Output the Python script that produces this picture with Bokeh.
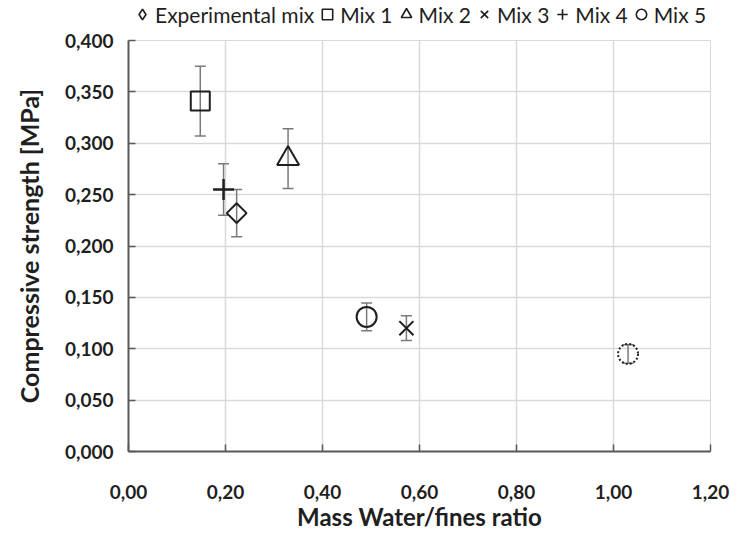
import numpy as np
from bokeh.plotting import figure
from bokeh.layouts import column
from bokeh.models import (ColumnDataSource, Whisker, TeeHead, Legend, LegendItem,
                          FixedTicker)
from bokeh.embed import file_html
from bokeh.resources import INLINE

# ---- data ----
series_names = ["Experimental mix", "Mix 1", "Mix 2", "Mix 3", "Mix 4", "Mix 5", "Mix 6"]
water_fines_ratio = [0.223, 0.148, 0.329, 0.573, 0.196, 0.491, 1.030]
compressive_strength = [0.232, 0.341, 0.285, 0.120, 0.255, 0.131, 0.095]
strength_sd = [0.023, 0.034, 0.029, 0.012, 0.025, 0.0135, 0.009]

x_ticks = [0.0, 0.2, 0.4, 0.6, 0.8, 1.0, 1.2]
x_tick_labels = ["0,00", "0,20", "0,40", "0,60", "0,80", "1,00", "1,20"]
y_ticks = [0.0, 0.05, 0.10, 0.15, 0.20, 0.25, 0.30, 0.35, 0.40]
y_tick_labels = ["0,000", "0,050", "0,100", "0,150", "0,200", "0,250", "0,300", "0,350", "0,400"]

# ---- styles ----
marker_styles = [
    dict(marker="square", size=14, angle=np.pi / 4),
    dict(marker="square", size=19),
    dict(marker="triangle", size=22),
    dict(marker="x", size=20),
    dict(marker="cross", size=21, line_width=2.5),
    dict(marker="circle", size=20),
    dict(marker="circle", size=20, line_dash="2 2"),
]
legend_markers = ["diamond", "square", "triangle", "x", "cross", "circle", "circle"]
legend_dash = ["solid", "solid", "solid", "solid", "solid", "solid", "2 2"]

FONT = "Lato"
GRID = "#d9d9d9"
AXIS = "#595959"
INK = "#1f1f1f"

# ---- main plot ----
p = figure(width=742, height=505, x_range=(0, 1.2), y_range=(0, 0.4),
           output_backend="svg", toolbar_location=None,
           min_border_left=128, min_border_right=32, min_border_top=12,
           min_border_bottom=82)
p.outline_line_color = GRID
p.background_fill_color = "white"

err_src = ColumnDataSource(dict(
    x=water_fines_ratio,
    upper=[v + e for v, e in zip(compressive_strength, strength_sd)],
    lower=[v - e for v, e in zip(compressive_strength, strength_sd)],
))
wh = Whisker(base="x", upper="upper", lower="lower", source=err_src, dimension="height",
             line_color="#7a7a7a", line_width=1.5,
             upper_head=TeeHead(size=11, line_color="#7a7a7a", line_width=1.5),
             lower_head=TeeHead(size=11, line_color="#7a7a7a", line_width=1.5))
p.add_layout(wh)

# ---- legend strip (its own frame, above the chart) ----
lg = figure(width=742, height=28, x_range=(10, 11), y_range=(10, 11),
            output_backend="svg", toolbar_location=None,
            x_axis_type=None, y_axis_type=None,
            min_border_left=16, min_border_right=0, min_border_top=0, min_border_bottom=0)
lg.outline_line_color = None
lg.xgrid.visible = False
lg.ygrid.visible = False

items = []
for i, name in enumerate(series_names):
    st = dict(marker_styles[i])
    lw = st.pop("line_width", 2)
    src = ColumnDataSource(dict(x=[water_fines_ratio[i]], y=[compressive_strength[i]]))
    p.scatter("x", "y", source=src, fill_alpha=0, line_color=INK, line_width=lw, **st)
    # same series, drawn in the legend strip (its point lies outside that strip's ranges)
    lr = lg.scatter("x", "y", source=src, marker=legend_markers[i], size=12,
                    fill_alpha=0, line_color=INK, line_width=1.6,
                    line_dash=legend_dash[i])
    items.append(LegendItem(label=name, renderers=[lr]))

legend = Legend(items=items, orientation="horizontal", location="top_left",
                glyph_width=26, glyph_height=26, label_standoff=0, spacing=0,
                padding=0, margin=1, label_height=26,
                label_text_font=FONT, label_text_font_size="21px",
                label_text_color=INK,
                border_line_color=None, background_fill_alpha=0)
lg.add_layout(legend)

# ---- axes ----
p.xaxis.ticker = FixedTicker(ticks=x_ticks)
p.yaxis.ticker = FixedTicker(ticks=y_ticks)
p.xaxis.major_label_overrides = {t: l for t, l in zip(x_ticks, x_tick_labels)}
p.yaxis.major_label_overrides = {t: l for t, l in zip(y_ticks, y_tick_labels)}
p.xaxis.axis_label = "Mass Water/fines ratio"
p.yaxis.axis_label = "Compressive strength [MPa]"

for ax in (p.xaxis, p.yaxis):
    ax.axis_line_color = AXIS
    ax.axis_line_width = 2
    ax.major_tick_line_color = AXIS
    ax.major_tick_line_width = 1.5
    ax.major_tick_in = 7
    ax.major_tick_out = 0
    ax.minor_tick_line_color = None
    ax.major_label_text_font = FONT
    ax.major_label_text_font_style = "bold"
    ax.major_label_text_font_size = "19px"
    ax.major_label_text_color = INK
    ax.axis_label_text_font = FONT
    ax.axis_label_text_font_style = "bold"
    ax.axis_label_text_font_size = "24px"
    ax.axis_label_text_color = INK

p.xaxis.major_label_standoff = 33
p.xaxis.axis_label_standoff = 0
p.yaxis.major_label_standoff = 15
p.yaxis.axis_label_standoff = 18
p.yaxis.axis_label_text_font_size = "25px"

p.xgrid.ticker = FixedTicker(ticks=x_ticks)
p.ygrid.ticker = FixedTicker(ticks=y_ticks)
for g in (p.xgrid, p.ygrid):
    g.grid_line_color = GRID
    g.grid_line_width = 1.5

layout = column(lg, p, spacing=0)
open("out.html", "w").write(file_html(layout, INLINE))
